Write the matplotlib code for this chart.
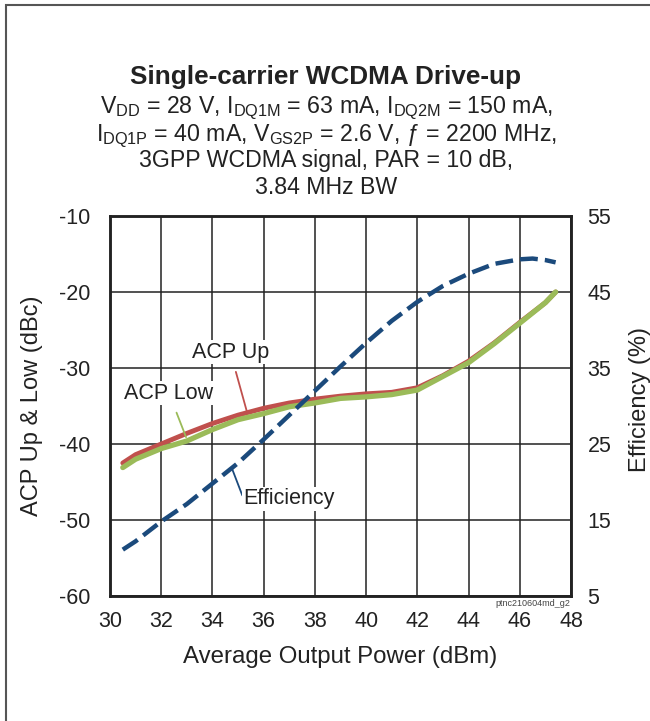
import matplotlib
matplotlib.use("Agg")
import matplotlib.pyplot as plt
from matplotlib.patches import Rectangle

plt.rcParams["font.family"] = ["Liberation Sans", "DejaVu Sans"]
plt.rcParams["mathtext.fontset"] = "custom"
plt.rcParams["mathtext.rm"] = "Liberation Sans"
plt.rcParams["mathtext.it"] = "Liberation Sans:italic"
plt.rcParams["axes.unicode_minus"] = False

# Data
pout = [30.5, 31, 32, 33, 34, 35, 36, 37, 38, 39, 40, 41, 42, 43, 44, 45, 46, 47, 47.4]
acp_up = [-42.5, -41.4, -40.0, -38.6, -37.3, -36.2, -35.3, -34.6, -34.1, -33.7,
          -33.4, -33.2, -32.6, -31.0, -29.1, -26.7, -24.0, -21.4, -20.0]
acp_low = [-43.1, -42.0, -40.6, -39.6, -38.1, -36.8, -36.0, -35.1, -34.6, -34.0,
           -33.8, -33.5, -32.9, -31.1, -29.3, -26.8, -24.1, -21.4, -20.0]
eff_x = [30.5, 31, 32, 33, 34, 35, 36, 37, 38, 39, 40, 41, 42, 43, 44, 45, 46, 46.5, 47, 47.4]
efficiency = [11.1, 12.2, 14.8, 17.1, 19.8, 22.5, 25.6, 28.8, 32.0, 35.2, 38.3,
              41.2, 43.7, 45.8, 47.4, 48.7, 49.3, 49.4, 49.2, 48.9]

x_ticks = list(range(30, 49, 2))
left_ticks = [-10, -20, -30, -40, -50, -60]
right_ticks = [55, 45, 35, 25, 15, 5]

title = "Single-carrier WCDMA Drive-up"
subtitle = [
    r"V$_{\mathrm{DD}}$ = 28 V, I$_{\mathrm{DQ1M}}$ = 63 mA, I$_{\mathrm{DQ2M}}$ = 150 mA,",
    r"I$_{\mathrm{DQ1P}}$ = 40 mA, V$_{\mathrm{GS2P}}$ = 2.6 V, ƒ = 2200 MHz,",
    "3GPP WCDMA signal, PAR = 10 dB,",
    "3.84 MHz BW",
]

W, H = 650, 721
fig = plt.figure(figsize=(W / 100, H / 100), dpi=100)

# outer frame (runs off right and bottom edge)
fig.patches.append(Rectangle((6 / W, -0.1), 1.2, 1 - 4.5 / H + 0.1, transform=fig.transFigure,
                             fill=False, edgecolor="#555555", linewidth=1.5))

fig.text(326 / W, 1 - 84.3 / H, title, ha="center", va="baseline",
         fontsize=18.8, fontweight="bold", color="#222222")
for line, base in zip(subtitle, [113.3, 141, 167.5, 194.5]):
    fig.text(326 / W, 1 - base / H, line, ha="center", va="baseline",
             fontsize=16.7, color="#222222")

ax = fig.add_axes([110 / W, 1 - 596 / H, 461 / W, 380 / H])
ax2 = ax.twinx()

ax.set_xlim(30, 48)
ax.set_ylim(-60, -10)
ax2.set_ylim(5, 55)
ax.set_xticks(x_ticks)
ax.set_yticks(left_ticks)
ax2.set_yticks(right_ticks)
ax.grid(True, color="#222222", linewidth=1.1)
ax.set_axisbelow(True)

for a in (ax, ax2):
    for s in a.spines.values():
        s.set_linewidth(1.8)
        s.set_color("#222222")
ax.tick_params(axis="both", length=0, labelsize=15.5, colors="#222222")
ax.tick_params(axis="x", pad=11)
ax.tick_params(axis="y", pad=14)
ax2.tick_params(axis="y", length=0, labelsize=15.5, colors="#222222", pad=12)

ax.plot(pout, acp_up, color="#c0504d", linewidth=3.5, solid_capstyle="round", zorder=3)
ax.plot(pout, acp_low, color="#9bbb59", linewidth=3.8, solid_capstyle="round", zorder=4)
ax2.plot(eff_x, efficiency, color="#1b4a7c", linewidth=3.2, linestyle=(0, (4, 1.6)))

box = dict(facecolor="white", edgecolor="none", pad=1)
ax.annotate("ACP Up", xy=(35.35, -35.8), xytext=(34.7, -27.9), fontsize=15.5,
            ha="center", va="center", color="#222222", bbox=box, zorder=5,
            arrowprops=dict(arrowstyle="-", color="#c0504d", lw=1.3, shrinkA=6, shrinkB=0))
ax.annotate("ACP Low", xy=(32.97, -39.1), xytext=(32.3, -33.3), fontsize=15.5,
            ha="center", va="center", color="#222222", bbox=box, zorder=5,
            arrowprops=dict(arrowstyle="-", color="#9bbb59", lw=1.3, shrinkA=6, shrinkB=0))
ax.annotate("Efficiency", xy=(34.76, -43.2), xytext=(37.0, -47.2), fontsize=15.5,
            ha="center", va="center", color="#222222", bbox=box, zorder=5,
            arrowprops=dict(arrowstyle="-", color="#1b4a7c", lw=1.3, shrinkA=0, shrinkB=0,
                            relpos=(0.0, 0.5)))

fig.text(533 / W, 1 - 603 / H, "ptnc210604md_g2", fontsize=6.5, ha="center",
         va="center", color="#444444")

fig.text(32 / W, 1 - 406 / H, "ACP Up & Low (dBc)", rotation=90, ha="center",
         va="center", fontsize=17, color="#222222")
fig.text(640 / W, 1 - 400 / H, "Efficiency (%)", rotation=90, ha="center",
         va="center", fontsize=17, color="#222222")
fig.text(340 / W, 1 - 657 / H, "Average Output Power (dBm)", ha="center",
         va="center", fontsize=17.3, color="#222222")

fig.savefig("out.png", dpi=100)
